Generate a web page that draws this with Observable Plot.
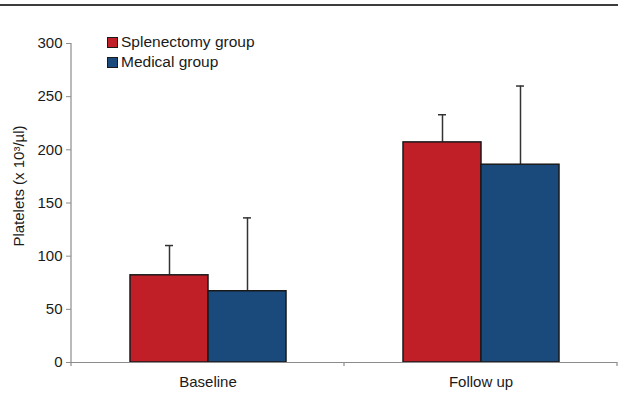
<!DOCTYPE html>
<html>
<head>
<meta charset="utf-8">
<script src="https://cdn.jsdelivr.net/npm/d3@7"></script>
<script src="https://cdn.jsdelivr.net/npm/@observablehq/plot@0.6"></script>
<style>
  html, body { margin: 0; padding: 0; background: #fff; }
  #wrap { position: relative; width: 618px; height: 395px; font-family: "Liberation Sans", Arial, sans-serif; color: #1a1a1a; }
  #topline { position: absolute; left: 0; top: 4px; width: 618px; height: 2px; background: #3c3c3c; }
  #legend { position: absolute; left: 107px; top: 32px; font-size: 15.5px; line-height: 20px; }
  #legend .row { display: flex; align-items: center; height: 20px; }
  #legend .sw { width: 9px; height: 9px; border: 1px solid #1a1a1a; margin-right: 3px; }
  #ylabel { position: absolute; left: 18px; top: 186px; transform: translate(-50%, -50%) rotate(-90deg); white-space: nowrap; font-size: 15px; }
  svg { display: block; }
</style>
</head>
<body>
<div id="wrap">
  <div id="chart"></div>
  <div id="topline"></div>
  <div id="legend"></div>
  <div id="ylabel"></div>
</div>
<script>
// Platelet counts (x10^3/µl), mean and SD by group and time point
const timePoints = ["Baseline", "Follow up"];
const groups = ["Splenectomy group", "Medical group"];
const groupColors = ["#c01f28", "#1a4a7c"];
const splenectomyMean = [82, 207];
const splenectomySD = [28, 26];
const medicalMean = [67, 186];
const medicalSD = [69, 74];
const yTicks = [0, 50, 100, 150, 200, 250, 300];
const yLabel = "Platelets (x 10³/µl)";

const rows = [];
timePoints.forEach((t, i) => {
  rows.push({time: t, group: groups[0], mean: splenectomyMean[i], sd: splenectomySD[i]});
  rows.push({time: t, group: groups[1], mean: medicalMean[i], sd: medicalSD[i]});
});

const axisGray = "#8c8c8c";

const chart = Plot.plot({
  width: 618,
  height: 395,
  marginLeft: 71,
  marginRight: 1,
  marginTop: 43,
  marginBottom: 33,
  style: {fontFamily: "Liberation Sans, Arial, sans-serif", fontSize: "15px", color: "#1a1a1a", background: "transparent"},
  fx: {domain: timePoints, padding: 0, label: null},
  x: {domain: groups, paddingInner: 0, paddingOuter: 0.75, axis: null},
  y: {domain: [0, 300], label: null},
  color: {domain: groups, range: groupColors},
  marks: [
    Plot.axisY({ticks: yTicks, tickSize: 5, tickPadding: 4, stroke: axisGray, fill: "#1a1a1a", fontSize: 15, label: null}),
    Plot.axisFx({anchor: "bottom", tickSize: 0, tickPadding: 14, fontSize: 15, fill: "#1a1a1a", label: null}),
    Plot.ruleX(rows, {fx: "time", x: "group", y1: "mean", y2: d => d.mean + d.sd, stroke: "#333", strokeWidth: 1.5}),
    Plot.tickY(rows, {fx: "time", x: "group", y: d => d.mean + d.sd, stroke: "#333", strokeWidth: 1.5, insetLeft: 35, insetRight: 35}),
    Plot.barY(rows, {fx: "time", x: "group", y: "mean", fill: "group", stroke: "#1a1a1a", strokeWidth: 1.5}),
    Plot.ruleY([0], {stroke: axisGray, strokeWidth: 1.2})
  ]
});

document.getElementById("chart").appendChild(chart);

// Vertical axis line and category boundary ticks, placed from the plot's own scales
const fxScale = chart.scale("fx");
const yScale = chart.scale("y");
const svg = d3.select(chart.tagName === "svg" ? chart : chart.querySelector("svg"));
const x0 = fxScale.range[0];
const y0 = yScale.apply(0);
const yTop = yScale.apply(d3.max(yTicks));
svg.append("line")
  .attr("x1", x0).attr("x2", x0).attr("y1", yTop).attr("y2", y0)
  .attr("stroke", axisGray).attr("stroke-width", 1.2);
const bounds = d3.range(timePoints.length + 1).map(i => x0 + i * fxScale.step);
svg.append("g").selectAll("line").data(bounds).join("line")
  .attr("x1", d => d).attr("x2", d => d).attr("y1", y0).attr("y2", y0 + 4)
  .attr("stroke", axisGray).attr("stroke-width", 1.2);

// Legend
const legend = d3.select("#legend");
groups.forEach((g, i) => {
  const row = legend.append("div").attr("class", "row");
  row.append("div").attr("class", "sw").style("background", groupColors[i]);
  row.append("span").text(g);
});

document.getElementById("ylabel").textContent = yLabel;
</script>
</body>
</html>
